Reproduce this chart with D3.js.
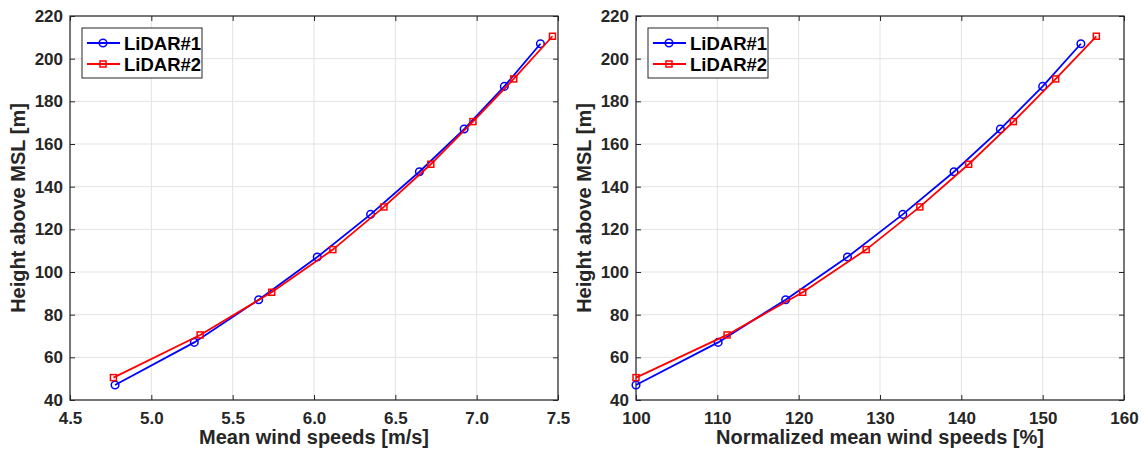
<!DOCTYPE html>
<html>
<head>
<meta charset="utf-8">
<script src="https://cdn.jsdelivr.net/npm/d3@7"></script>
<style>
  html, body { margin: 0; padding: 0; background: #fff; }
  svg { display: block; }
  text { font-family: "Liberation Sans", Arial, Helvetica, sans-serif; font-weight: bold; fill: #262626; }
</style>
</head>
<body>
<svg id="chart" width="1144" height="452"></svg>
<script>
// ---- Data ----
const heights1 = [47, 67, 87, 107, 127, 147, 167, 187, 207];
const heights2 = [50.5, 70.5, 90.5, 110.5, 130.5, 150.5, 170.5, 190.5, 210.5];
const speed1 = [4.777, 5.264, 5.66, 6.02, 6.348, 6.648, 6.923, 7.17, 7.392];
const speed2 = [4.767, 5.30, 5.74, 6.116, 6.43, 6.718, 6.977, 7.228, 7.466];
const norm1 = [100, 110.1, 118.4, 126.0, 132.8, 139.1, 144.8, 150.0, 154.7];
const norm2 = [100, 111.2, 120.5, 128.3, 134.9, 140.9, 146.4, 151.6, 156.6];
const seriesNames = ["LiDAR#1", "LiDAR#2"];
const yTicks = [40, 60, 80, 100, 120, 140, 160, 180, 200, 220];
const xTicksLeft = [4.5, 5.0, 5.5, 6.0, 6.5, 7.0, 7.5];
const xTicksRight = [100, 110, 120, 130, 140, 150, 160];
const xLabelLeft = "Mean wind speeds [m/s]";
const xLabelRight = "Normalized mean wind speeds [%]";
const yLabel = "Height above MSL [m]";

const svg = d3.select("#chart");
const axisColor = "#262626";
const gridColor = "#e3e3e3";

function panel(opts) {
  const { left, right, top, bottom, xDomain, xTicks, xFmt, xs1, xs2, xLabel } = opts;
  const x = d3.scaleLinear().domain(xDomain).range([left, right]);
  const y = d3.scaleLinear().domain([40, 220]).range([bottom, top]);
  const g = svg.append("g");

  // grid
  g.selectAll(".gx").data(xTicks).enter().append("line")
    .attr("x1", d => x(d)).attr("x2", d => x(d))
    .attr("y1", top).attr("y2", bottom)
    .attr("stroke", gridColor).attr("stroke-width", 1);
  g.selectAll(".gy").data(yTicks).enter().append("line")
    .attr("x1", left).attr("x2", right)
    .attr("y1", d => y(d)).attr("y2", d => y(d))
    .attr("stroke", gridColor).attr("stroke-width", 1);

  // axes (inward ticks)
  const tl = 5;
  const xAxisB = d3.axisBottom(x).tickValues(xTicks).tickFormat(xFmt).tickSizeInner(-tl).tickSizeOuter(0).tickPadding(12);
  const xAxisT = d3.axisTop(x).tickValues(xTicks).tickFormat("").tickSizeInner(-tl).tickSizeOuter(0);
  const yAxisL = d3.axisLeft(y).tickValues(yTicks).tickFormat(d3.format("d")).tickSizeInner(-tl).tickSizeOuter(0).tickPadding(7);
  const yAxisR = d3.axisRight(y).tickValues(yTicks).tickFormat("").tickSizeInner(-tl).tickSizeOuter(0);

  const ax = [
    g.append("g").attr("transform", `translate(0,${bottom})`).call(xAxisB),
    g.append("g").attr("transform", `translate(0,${top})`).call(xAxisT),
    g.append("g").attr("transform", `translate(${left},0)`).call(yAxisL),
    g.append("g").attr("transform", `translate(${right},0)`).call(yAxisR)
  ];
  ax.forEach(a => {
    a.select(".domain").remove();
    a.selectAll("line").attr("stroke", axisColor).attr("stroke-width", 1);
    a.selectAll("text").style("font-size", "17px").style("font-family", '"Liberation Sans", Arial, sans-serif')
      .style("font-weight", "bold").attr("fill", axisColor);
  });

  // box
  g.append("rect").attr("x", left).attr("y", top).attr("width", right - left).attr("height", bottom - top)
    .attr("fill", "none").attr("stroke", axisColor).attr("stroke-width", 1.2);

  // series
  const line = d3.line().x(d => x(d[0])).y(d => y(d[1]));
  const d1 = xs1.map((v, i) => [v, heights1[i]]);
  const d2 = xs2.map((v, i) => [v, heights2[i]]);

  g.append("path").datum(d1).attr("d", line).attr("fill", "none").attr("stroke", "#0000ff").attr("stroke-width", 1.8);
  g.selectAll(".m1").data(d1).enter().append("circle")
    .attr("cx", d => x(d[0])).attr("cy", d => y(d[1])).attr("r", 3.8)
    .attr("fill", "none").attr("stroke", "#0000ff").attr("stroke-width", 1.5);

  g.append("path").datum(d2).attr("d", line).attr("fill", "none").attr("stroke", "#ff0000").attr("stroke-width", 1.8);
  g.selectAll(".m2").data(d2).enter().append("rect")
    .attr("x", d => x(d[0]) - 3).attr("y", d => y(d[1]) - 3).attr("width", 6).attr("height", 6)
    .attr("fill", "none").attr("stroke", "#ff0000").attr("stroke-width", 1.5);

  // labels
  g.append("text").attr("x", (left + right) / 2).attr("y", 444).attr("text-anchor", "middle")
    .style("font-size", "20px").text(xLabel);
  g.append("text").attr("transform", `translate(${left - 45},${(top + bottom) / 2}) rotate(-90)`)
    .attr("text-anchor", "middle").style("font-size", "20px").text(yLabel);

  // legend
  const lx = left + 12, ly = top + 12;
  g.append("rect").attr("x", lx).attr("y", ly).attr("width", 120).attr("height", 50)
    .attr("fill", "#fff").attr("stroke", axisColor).attr("stroke-width", 1);
  const colors = ["#0000ff", "#ff0000"];
  seriesNames.forEach((nm, i) => {
    const yy = ly + 15 + i * 21;
    g.append("line").attr("x1", lx + 5).attr("x2", lx + 38).attr("y1", yy).attr("y2", yy)
      .attr("stroke", colors[i]).attr("stroke-width", 1.8);
    if (i === 0) {
      g.append("circle").attr("cx", lx + 21).attr("cy", yy).attr("r", 3.8)
        .attr("fill", "none").attr("stroke", colors[i]).attr("stroke-width", 1.5);
    } else {
      g.append("rect").attr("x", lx + 18).attr("y", yy - 3).attr("width", 6).attr("height", 6)
        .attr("fill", "none").attr("stroke", colors[i]).attr("stroke-width", 1.5);
    }
    g.append("text").attr("x", lx + 42).attr("y", yy + 7).style("font-size", "18.5px")
      .style("fill", "#000").text(nm);
  });
}

panel({ left: 70, right: 558, top: 16, bottom: 400, xDomain: [4.5, 7.5], xTicks: xTicksLeft,
  xFmt: d3.format(".1f"), xs1: speed1, xs2: speed2, xLabel: xLabelLeft });
panel({ left: 636, right: 1124, top: 16, bottom: 400, xDomain: [100, 160], xTicks: xTicksRight,
  xFmt: d3.format("d"), xs1: norm1, xs2: norm2, xLabel: xLabelRight });
</script>
</body>
</html>
